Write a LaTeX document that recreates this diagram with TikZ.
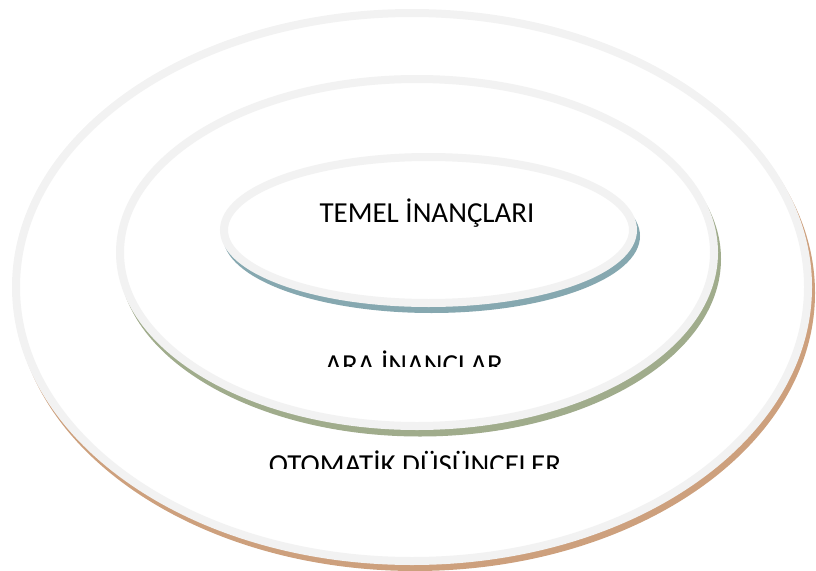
\documentclass[tikz,border=0pt]{standalone}
\usepackage{fontspec}
\setmainfont{Carlito}
\usepackage{tikz}
\usetikzlibrary{calc}
\usetikzlibrary{positioning}
\definecolor{rimgray}{RGB}{242,242,242}
\definecolor{coreshade}{RGB}{134,168,176}
\definecolor{midshade}{RGB}{160,172,140}
\definecolor{outshade}{RGB}{205,160,125}
\tikzstyle{ring} = [draw = rimgray, line width = 8pt, fill = white]
\tikzstyle{label} = [draw=none, inner sep = 0, anchor = base, font = \fontsize{29}{32}\selectfont]

\begin{document}
\begin{tikzpicture}[x=1pt, y=-1pt]
\useasboundingbox (0, 0) rectangle (816, 570);
% outer ring
\fill [outshade] (415, 293) ellipse (400 and 278);
\draw [ring] (412, 287) ellipse (396 and 274);
% middle ring
\fill [midshade] (420, 259) ellipse (301 and 177.5);
\draw [ring] (417, 252.5) ellipse (297 and 173.5);
% inner ring
\fill [coreshade] (431.5, 236) ellipse (208.5 and 77);
\draw [ring] (428.5, 230) ellipse (204.5 and 73);
\node [label] (core) at (427, 222) {TEMEL İNANÇLARI};
\begin{scope}
\clip (0, 0) rectangle (816, 366);
\node [label] (mid) at (414, 374) {ARA İNANÇLAR};
\end{scope}
\begin{scope}
\clip (0, 380) rectangle (816, 468);
\node [label] (auto) at (415, 474) {OTOMATİK DÜŞÜNCELER};
\end{scope}
\end{tikzpicture}
\end{document}
